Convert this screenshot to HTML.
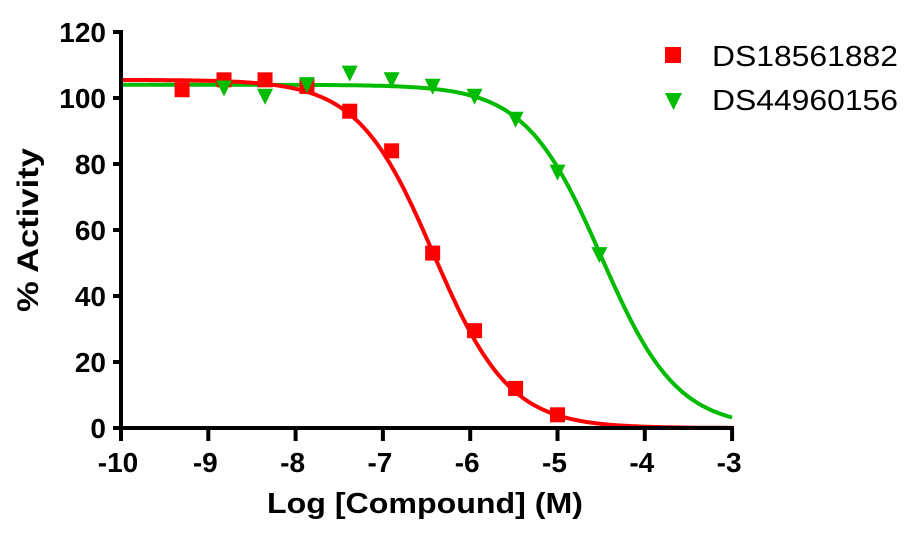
<!DOCTYPE html>
<html><head><meta charset="utf-8"><style>
html,body{margin:0;padding:0;background:#fff;}
svg{display:block;font-family:"Liberation Sans",Arial,sans-serif;}
</style></head><body>
<svg id="s" width="910" height="536" viewBox="0 0 910 536" xmlns="http://www.w3.org/2000/svg">
<g id="curves"></g>
<g id="pts"></g>
<g stroke="#000" stroke-width="4" fill="none" stroke-linecap="butt">
<line x1="121" y1="30" x2="121" y2="430"/>
<line x1="119" y1="428" x2="734" y2="428"/>
</g>
<g id="ticks" stroke="#000" stroke-width="4"></g>
<g id="labels" font-weight="bold" font-size="28" fill="#000"></g>
<text x="-312" y="38" transform="rotate(-90)" font-weight="bold" font-size="30" textLength="164" lengthAdjust="spacingAndGlyphs">% Activity</text>
<text x="267" y="513" font-weight="bold" font-size="29" textLength="316" lengthAdjust="spacingAndGlyphs">Log [Compound] (M)</text>
<rect x="665" y="47" width="16" height="16" fill="#ff0000"/>
<polygon points="665,93 682,93 673.5,110" fill="#00bb00"/>
<text x="712" y="66" font-size="29" textLength="186" lengthAdjust="spacingAndGlyphs">DS18561882</text>
<text x="712" y="110" font-size="29" textLength="186" lengthAdjust="spacingAndGlyphs">DS44960156</text>
</svg>
<script>
var X=function(v){return 121+(v+10)*87.3;},Y=function(v){return 428-v*3.3;};
var ns="http://www.w3.org/2000/svg";
function el(t,a,p){var e=document.createElementNS(ns,t);for(var k in a)e.setAttribute(k,a[k]);document.getElementById(p).appendChild(e);return e;}
function curve(top,c,h,col){var d="";for(var x=-10;x<=-3.0001+0.02;x+=0.02){var xx=Math.min(x,-3);var y=top/(1+Math.pow(10,h*(xx-c)));d+=(d?"L":"M")+X(xx).toFixed(1)+","+Y(y).toFixed(1);}el("path",{d:d,stroke:col,"stroke-width":4,fill:"none"},"curves");}
curve(104,-4.5,1,"#00bb00");
curve(105.5,-6.42,1,"#ff0000");
var red=[[-9.3,102.5],[-8.82,105.5],[-8.35,105.5],[-7.87,103.5],[-7.38,96],[-6.9,84],[-6.43,53],[-5.95,29.5],[-5.48,12],[-5,4]];
var gr=[[-8.82,103.5],[-8.35,101],[-7.87,104.5],[-7.38,108],[-6.9,106],[-6.43,104],[-5.95,101],[-5.48,94],[-5,78],[-4.52,53]];
red.forEach(function(p){el("rect",{x:X(p[0])-7.5,y:Y(p[1])-7.5,width:15,height:15,fill:"#ff0000"},"pts");});
gr.forEach(function(p){var x=X(p[0]),y=Y(p[1]);el("polygon",{points:(x-8)+","+(y-6)+" "+(x+8)+","+(y-6)+" "+x+","+(y+10),fill:"#00bb00"},"pts");});
for(var v=0;v<=120;v+=20){el("line",{x1:113,y1:Y(v),x2:121,y2:Y(v)},"ticks");var t=el("text",{x:106,y:Y(v)+10,"text-anchor":"end"},"labels");t.textContent=v;}
for(var v=-10;v<=-3;v++){el("line",{x1:X(v),y1:428,x2:X(v),y2:441},"ticks");var t=el("text",{x:X(v)-3,y:472,"text-anchor":"middle"},"labels");t.textContent=v;}
</script>
</body></html>
